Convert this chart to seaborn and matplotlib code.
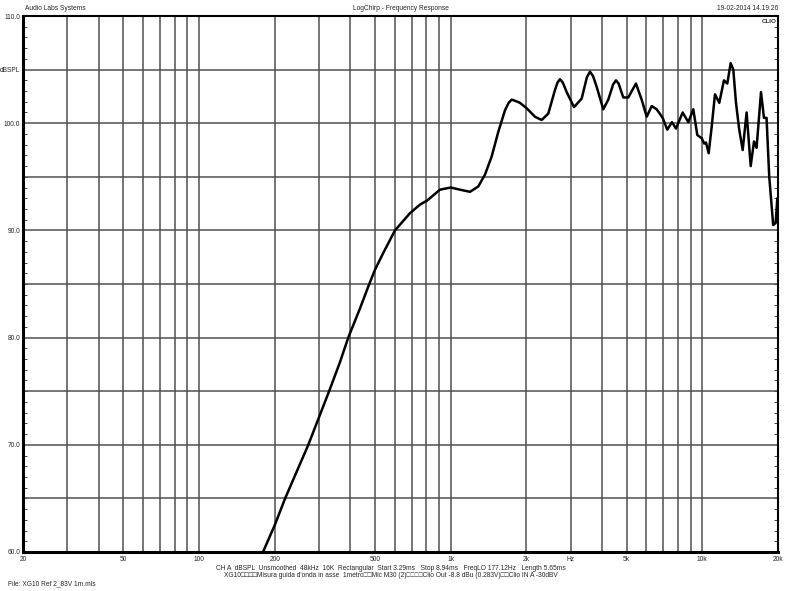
import pandas as pd
import matplotlib.pyplot as plt
import seaborn as sns
from matplotlib.ticker import FixedLocator, MultipleLocator, NullFormatter

# Frequency response (Hz, dBSPL)
freq_hz = [179.7, 200, 220, 272, 329, 362, 392, 436, 475, 500, 540, 601, 689,
           755, 808, 907, 1000, 1089, 1194, 1288, 1369, 1456, 1547, 1644, 1700,
           1749, 1800, 1886, 2005, 2164, 2300, 2444, 2598, 2660, 2720, 2790,
           2892, 3092, 3317, 3480, 3579, 3680, 3804, 4042, 4231, 4420, 4539,
           4650, 4853, 5080, 5449, 5741, 6013, 6295, 6588, 6958, 7256, 7579,
           7862, 8355, 8800, 9210, 9551, 9943, 10180, 10340, 10600, 10900,
           11230, 11680, 12190, 12570, 12960, 13280, 13610, 14020, 14470,
           15000, 15570, 16050, 16430, 17110, 17580, 18000, 18450, 19130,
           19570, 19860]
spl_db = [60.0, 62.5, 65.0, 70.0, 75.0, 77.6, 80.0, 82.7, 85.0, 86.3, 87.9,
          90.0, 91.6, 92.4, 92.8, 93.8, 94.0, 93.8, 93.6, 94.1, 95.2, 96.9,
          99.2, 101.2, 101.9, 102.2, 102.1, 101.9, 101.4, 100.6, 100.3, 100.9,
          103.1, 103.8, 104.1, 103.8, 102.9, 101.5, 102.3, 104.3, 104.8,
          104.4, 103.4, 101.3, 102.2, 103.6, 104.0, 103.7, 102.4, 102.4, 103.7,
          102.2, 100.6, 101.6, 101.3, 100.5, 99.4, 100.1, 99.5, 101.0, 100.1,
          101.3, 98.9, 98.6, 98.1, 98.2, 97.2, 99.7, 102.7, 101.9, 104.0,
          103.7, 105.6, 105.0, 101.9, 99.4, 97.5, 101.0, 96.0, 98.3, 97.7,
          102.9, 100.5, 100.5, 95.0, 90.5, 90.7, 93.0]

x_ticks = [20, 50, 100, 200, 500, 1000, 2000, 3000, 5000, 10000, 20000]
x_labels = ["20", "50", "100", "200", "500", "1k", "2k", "Hz", "5k", "10k", "20k"]
y_ticks = [60, 70, 80, 90, 100, 105, 110]
y_labels = ["60.0", "70.0", "80.0", "90.0", "100.0", "dBSPL", "110.0"]

df = pd.DataFrame({"freq": freq_hz, "spl": spl_db})

sns.set_style("white")
plt.rcParams["font.family"] = ["Liberation Sans", "DejaVu Sans"]
fs = 4.8

fig = plt.figure(figsize=(7.86, 5.91), dpi=100)
ax = fig.add_axes([0.0293, 0.066, 0.9606, 0.9069])

ax.set_xscale("log")
ax.set_xlim(20, 20000)
ax.set_ylim(60, 110)

# grid lines: 1..9 per decade, every 5 dB
grid_x = [m * 10 ** d for d in range(1, 5) for m in range(1, 10) if 20 <= m * 10 ** d <= 20000]
for gx in grid_x:
    ax.axvline(gx, color="#505050", lw=1.1, zorder=1)
for gy in range(65, 110, 5):
    ax.axhline(gy, color="#505050", lw=1.1, zorder=1)

sns.lineplot(data=df, x="freq", y="spl", color="black", lw=1.8, ax=ax, zorder=3)

ax.xaxis.set_major_locator(FixedLocator(x_ticks))
ax.xaxis.set_minor_locator(FixedLocator([]))
ax.xaxis.set_minor_formatter(NullFormatter())
ax.set_xticklabels(x_labels)
ax.set_yticks(y_ticks)
ax.set_yticklabels(y_labels)
ax.yaxis.set_minor_locator(MultipleLocator(1))
ax.tick_params(axis="x", length=0, labelsize=fs, pad=3)
ax.tick_params(axis="y", which="major", length=0, labelsize=fs, pad=2)
ax.tick_params(axis="y", which="minor", direction="in", length=3, width=0.6,
               left=True, right=True)
ax.set_xlabel("")
ax.set_ylabel("")
for side in ax.spines.values():
    side.set_color("black")
ax.spines["left"].set_linewidth(2.2)
ax.spines["bottom"].set_linewidth(2.2)
ax.spines["top"].set_linewidth(1.5)
ax.spines["right"].set_linewidth(1.5)

fig.text(0.032, 0.992, "Audio Labs Systems", fontsize=fs, va="top", ha="left")
fig.text(0.51, 0.992, "LogChirp - Frequency Response", fontsize=fs, va="top", ha="center")
fig.text(0.99, 0.992, "19-02-2014 14.19.26", fontsize=fs, va="top", ha="right")
ax.text(0.998, 0.995, "CLIO", transform=ax.transAxes, fontsize=4.5, fontweight="bold",
        va="top", ha="right")

fig.text(0.497, 0.0385,
         "CH A  dBSPL  Unsmoothed  48kHz  16K  Rectangular  Start 3.29ms   "
         "Stop 8.94ms   FreqLO 177.12Hz   Length 5.65ms",
         fontsize=fs, ha="center", va="center")
fig.text(0.497, 0.0255,
         "XG10\u25a1\u25a1\u25a1\u25a1Misura guida d'onda in asse  1metro\u25a1\u25a1Mic M30 (2)"
         "\u25a1\u25a1\u25a1\u25a1Clio Out -8.8 dBu (0.283V)\u25a1\u25a1Clio IN A -30dBV",
         fontsize=fs, ha="center", va="center")
fig.text(0.01, 0.012, "File: XG10 Ref 2_83V 1m.mls", fontsize=fs, ha="left", va="center")

fig.savefig("out.png", dpi=100)
